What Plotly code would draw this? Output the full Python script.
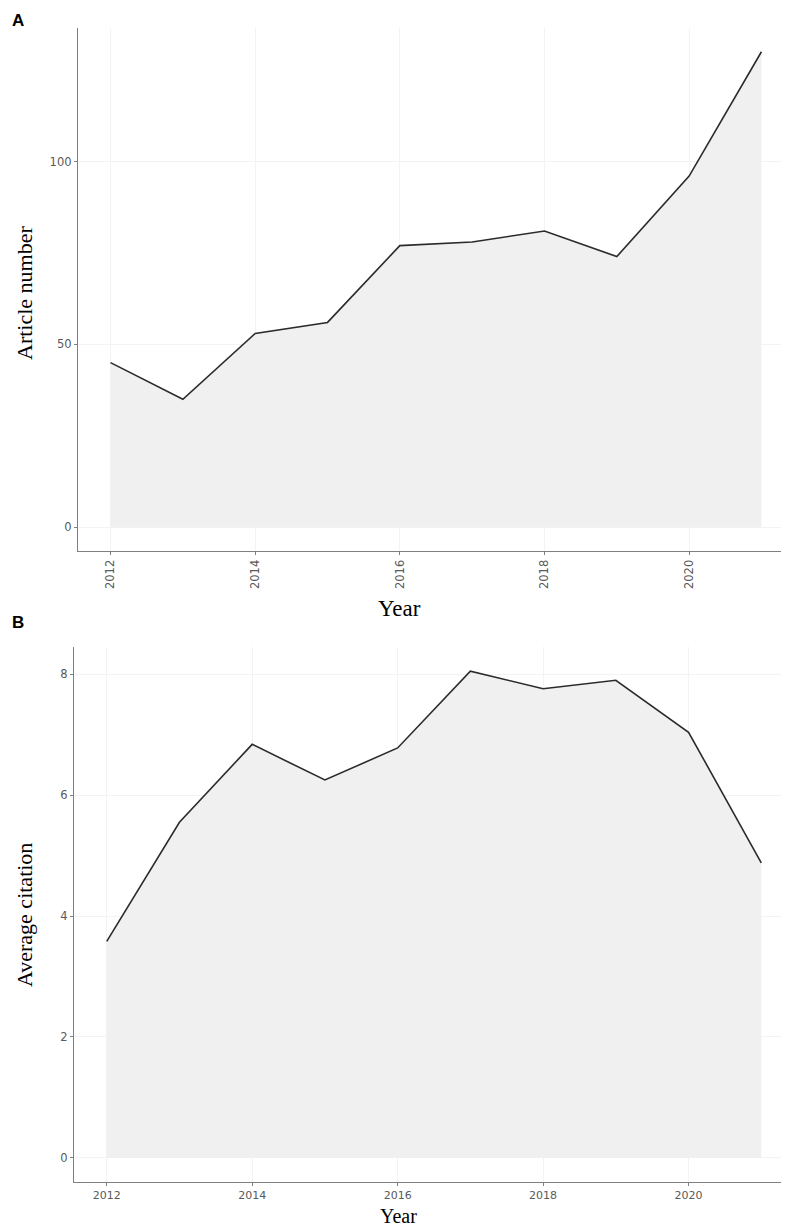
import plotly.graph_objects as go

W, H = 789, 1225

years = [2012, 2013, 2014, 2015, 2016, 2017, 2018, 2019, 2020, 2021]
article_number = [45, 35, 53, 56, 77, 78, 81, 74, 96, 130]
average_citation = [3.58, 5.55, 6.84, 6.25, 6.78, 8.05, 7.76, 7.90, 7.04, 4.88]

year_ticks = [2012, 2014, 2016, 2018, 2020]
article_ticks = [0, 50, 100]
citation_ticks = [0, 2, 4, 6, 8]

line_col = '#2b2b2b'
fill_col = '#f0f0f0'
axis_col = '#808080'
grid_col = '#f3f3f3'
tick_font = dict(family='DejaVu Sans', size=11.5, color='#5a5a5a')
title_font = dict(family='Liberation Serif', size=22, color='black')


def px_x(v):
    return v / W


def px_y(v):
    return 1 - v / H


fig = go.Figure()

fig.add_trace(go.Scatter(x=years, y=article_number, mode='lines', fill='tozeroy',
                         fillcolor=fill_col, line=dict(color=line_col, width=1.6),
                         xaxis='x', yaxis='y', showlegend=False))
fig.add_trace(go.Scatter(x=years, y=average_citation, mode='lines', fill='tozeroy',
                         fillcolor=fill_col, line=dict(color=line_col, width=1.6),
                         xaxis='x2', yaxis='y2', showlegend=False))

axis_common = dict(showline=True, linecolor=axis_col, linewidth=1.3, ticks='outside',
                   ticklen=3, tickcolor=axis_col, tickwidth=1, showgrid=True,
                   gridcolor=grid_col, gridwidth=1, zeroline=False, tickfont=tick_font,
                   mirror=False)

fig.update_layout(
    width=W, height=H,
    margin=dict(l=0, r=0, t=0, b=0),
    paper_bgcolor='white', plot_bgcolor='white',
    xaxis=dict(domain=[px_x(70), px_x(786)], range=[2011.55, 2021.45], tickvals=year_ticks,
               tickangle=-90, anchor='y', **axis_common),
    yaxis=dict(domain=[px_y(543), px_y(20)], range=[-6.5, 136.5], tickvals=article_ticks,
               anchor='x', **axis_common),
    xaxis2=dict(domain=[px_x(66), px_x(786)], range=[2011.55, 2021.45], tickvals=year_ticks,
                tickangle=0, anchor='y2', **axis_common),
    yaxis2=dict(domain=[px_y(1174), px_y(639)], range=[-0.40, 8.45], tickvals=citation_ticks,
                anchor='x2', **axis_common),
)
fig.update_xaxes(selector=dict(anchor='y2'), tickfont=dict(size=11))

annotations = [
    dict(text='<b>A</b>', x=px_x(2), y=px_y(12), xanchor='left', yanchor='middle',
         font=dict(family='Liberation Sans', size=17, color='black')),
    dict(text='<b>B</b>', x=px_x(2), y=px_y(614), xanchor='left', yanchor='middle',
         font=dict(family='Liberation Sans', size=17, color='black')),
    dict(text='Article number', x=px_x(16), y=px_y(285), textangle=-90,
         xanchor='center', yanchor='middle', font=title_font),
    dict(text='Year', x=px_x(391), y=px_y(600), xanchor='center', yanchor='middle',
         font=dict(family='Liberation Serif', size=23, color='black')),
    dict(text='Average citation', x=px_x(16), y=px_y(907), textangle=-90,
         xanchor='center', yanchor='middle', font=title_font),
    dict(text='Year', x=px_x(390), y=px_y(1220), xanchor='center', yanchor='bottom',
         font=dict(family='Liberation Serif', size=20, color='black'), borderpad=0),
]
for a in annotations:
    a.update(xref='paper', yref='paper', showarrow=False)
fig.update_layout(annotations=annotations)

fig.write_html("out.html")
